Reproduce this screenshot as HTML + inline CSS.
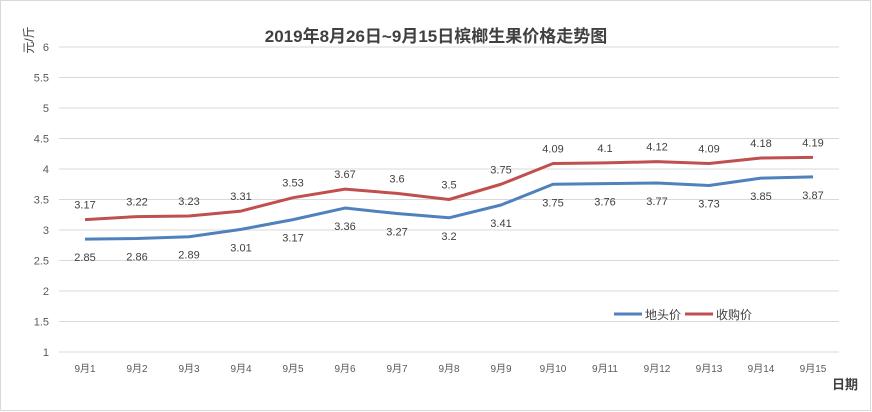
<!DOCTYPE html>
<html><head><meta charset="utf-8">
<style>
html,body{margin:0;padding:0;background:#fff}
svg{display:block;font-family:"Liberation Sans","Noto Sans CJK SC",sans-serif}
</style></head>
<body>
<svg width="872" height="412" viewBox="0 0 872 412">
<rect x="0.5" y="0.5" width="870" height="410" fill="#fff" stroke="#d9d9d9"/>
<text x="436" y="42" text-anchor="middle" font-size="17" font-weight="bold" fill="#404040">2019年8月26日~9月15日槟榔生果价格走势图</text>
<text transform="translate(33,40) rotate(-90)" text-anchor="middle" font-size="12" fill="#404040">元/斤</text>
<text x="845" y="389" text-anchor="middle" font-size="13" font-weight="bold" fill="#404040">日期</text>
<g id="grid"></g><g id="ylab"></g><g id="xlab"></g><g id="lines"></g><g id="vals"></g>
<g>
<line x1="614" y1="314" x2="642" y2="314" stroke="#4f81bd" stroke-width="3"/>
<text x="645" y="319" font-size="12" fill="#404040">地头价</text>
<line x1="685" y1="314" x2="713" y2="314" stroke="#c0504d" stroke-width="3"/>
<text x="716" y="319" font-size="12" fill="#404040">收购价</text>
</g>
</svg>
<script>
const categories=["9月1","9月2","9月3","9月4","9月5","9月6","9月7","9月8","9月9","9月10","9月11","9月12","9月13","9月14","9月15"];
const ditou=[2.85,2.86,2.89,3.01,3.17,3.36,3.27,3.2,3.41,3.75,3.76,3.77,3.73,3.85,3.87];
const shougou=[3.17,3.22,3.23,3.31,3.53,3.67,3.6,3.5,3.75,4.09,4.1,4.12,4.09,4.18,4.19];
const yTicks=[1,1.5,2,2.5,3,3.5,4,4.5,5,5.5,6];
const L=59,R=839,T=47,B=352,yMin=1,yMax=6;
const ns="http://www.w3.org/2000/svg";
const step=(R-L)/categories.length;
const x=i=>L+step*(i+0.5);
const y=v=>B-(v-yMin)/(yMax-yMin)*(B-T);
function mk(tag,attrs,parent,txt){const e=document.createElementNS(ns,tag);for(const k in attrs)e.setAttribute(k,attrs[k]);if(txt!==undefined)e.textContent=txt;document.getElementById(parent).appendChild(e);return e;}
yTicks.forEach(t=>{
 const g=mk('line',{x1:L,x2:R,y1:y(t),y2:y(t),stroke:'#d9d9d9','stroke-width':1},'grid');
 
 
 const lb=mk('text',{x:L-10,y:y(t)+4,'text-anchor':'end','font-size':11,fill:'#595959'},'ylab',String(t));
 
 
});
categories.forEach((c,i)=>{
 const lb=mk('text',{x:x(i),y:372,'text-anchor':'middle','font-size':10,fill:'#595959'},'xlab',c);
 
 
});
function series(data,color,name,dy){
 const p=mk('polyline',{points:data.map((v,i)=>x(i)+','+y(v)).join(' '),fill:'none',stroke:color,'stroke-width':3,'stroke-linejoin':'round'},'lines');
 
 
 data.forEach((v,i)=>{
  const t=mk('text',{x:x(i),y:y(v)+dy,'text-anchor':'middle','font-size':11,fill:'#404040'},'vals',String(v));
  
  
 });
}
series(ditou,'#4f81bd','ditou',22);
series(shougou,'#c0504d','shougou',-11);
</script>
</body></html>
